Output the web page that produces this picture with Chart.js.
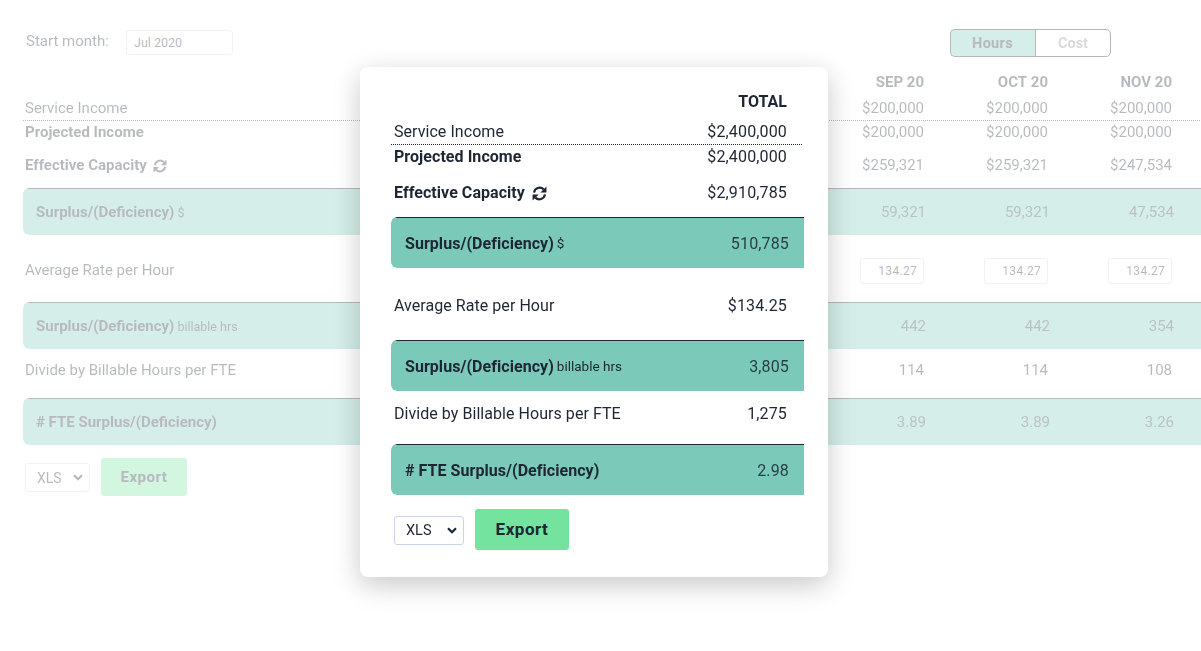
<!DOCTYPE html>
<html>
<head>
<meta charset="utf-8">
<style>
html, body { margin: 0; padding: 0; background: #fff; overflow: hidden; width: 1201px; height: 651px; font-family: Roboto, sans-serif; color: #1e2533; }
canvas { position: absolute; left: 0; top: 0; }
#back { position: absolute; left: 0; top: 0; width: 1201px; height: 651px; opacity: 0.32; }
#card { position: absolute; left: 360px; top: 67px; width: 468px; height: 510px; background: #fff; border-radius: 8px; box-shadow: 0 8px 28px rgba(0,0,0,.22); }
.abs { position: absolute; box-sizing: border-box; }
.box { background: #fff; border: 1px solid #c8d2e6; border-radius: 3px; font-size: 12.5px; line-height: 24px; }
select { position: absolute; box-sizing: border-box; appearance: none; -webkit-appearance: none; border: 1px solid #c8d6ec; border-radius: 3px; font-family: Roboto, sans-serif; color: #1e2533; padding-left: 11px;
  background: #fff url("data:image/svg+xml,%3Csvg xmlns='http://www.w3.org/2000/svg' width='10' height='7'%3E%3Cpath d='M1 1.2L5 5.2L9 1.2' fill='none' stroke='%231e2533' stroke-width='2.2'/%3E%3C/svg%3E") no-repeat right 6px center; }
.export { background: #74e3a0; border-radius: 3px; font-weight: 700; text-align: center; letter-spacing: 0.5px; }
svg { position: absolute; }
</style>
</head>
<body>
<div id="back">
  <canvas id="backChart" width="1201" height="651"></canvas>
  <div class="abs" style="left:26px;top:32px;font-size:15px;line-height:18px">Start month:</div>
  <div class="abs box" style="left:126px;top:30px;width:107px;height:25px;padding-left:7px">Jul 2020</div>
  <div class="abs" style="left:950px;top:29px;width:86px;height:28px;background:#7ac9b9;border:1px solid #1a1a1a;border-right:none;border-radius:5px 0 0 5px;font-size:14.5px;font-weight:700;text-align:center;line-height:28px;letter-spacing:.3px;padding-right:2px">Hours</div>
  <div class="abs" style="left:1035px;top:29px;width:76px;height:28px;border:1px solid #1a1a1a;border-radius:0 5px 5px 0;font-size:14.5px;font-weight:700;text-align:center;line-height:28px;color:#8a8a92">Cost</div>
  <div class="abs box" style="left:860px;top:258px;width:64px;height:26px;text-align:right;padding-right:6px;font-size:12px;letter-spacing:.3px">134.27</div>
  <div class="abs box" style="left:984px;top:258px;width:64px;height:26px;text-align:right;padding-right:6px;font-size:12px;letter-spacing:.3px">134.27</div>
  <div class="abs box" style="left:1108px;top:258px;width:64px;height:26px;text-align:right;padding-right:6px;font-size:12px;letter-spacing:.3px">134.27</div>
  <select style="left:25px;top:463px;width:65px;height:29px;font-size:14px"><option>XLS</option></select>
  <div class="abs export" style="left:101px;top:458px;width:86px;height:38px;font-size:15px;line-height:38px">Export</div>
  <svg style="left:153px;top:159px" width="14" height="14" viewBox="0 0 16 16"><path d="M2.2 7A6 6 0 0 1 12.4 3.6M13.8 9A6 6 0 0 1 3.6 12.4" fill="none" stroke="#1e2533" stroke-width="2.3"/><path d="M15.4 0.6V7H9ZM0.6 15.4V9H7Z" fill="#1e2533"/></svg>
</div>
<div id="card"></div>
<canvas id="cardChart" width="1201" height="651"></canvas>
<select style="left:394px;top:516px;width:70px;height:29px;font-size:14.5px"><option>XLS</option></select>
<div class="abs export" style="left:475px;top:509px;width:94px;height:41px;font-size:17px;line-height:41px">Export</div>
<svg style="left:532px;top:186px" width="15" height="15" viewBox="0 0 16 16"><path d="M2.2 7A6 6 0 0 1 12.4 3.6M13.8 9A6 6 0 0 1 3.6 12.4" fill="none" stroke="#1e2533" stroke-width="2.3"/><path d="M15.4 0.6V7H9ZM0.6 15.4V9H7Z" fill="#1e2533"/></svg>

<script src="https://cdn.jsdelivr.net/npm/chart.js@4"></script>
<script>
// table content
const rowLabels = ['Service Income', 'Projected Income', 'Effective Capacity', 'Surplus/(Deficiency)', 'Average Rate per Hour', 'Surplus/(Deficiency)', 'Divide by Billable Hours per FTE', '# FTE Surplus/(Deficiency)'];
const rowNotes = ['', '', '', '$', '', 'billable hrs', '', ''];
const months = ['SEP 20', 'OCT 20', 'NOV 20'];
const serviceIncome = [200000, 200000, 200000];
const projectedIncome = [200000, 200000, 200000];
const effectiveCapacity = [259321, 259321, 247534];
const surplusDollars = [59321, 59321, 47534];
const surplusHours = [442, 442, 354];
const billableHours = [114, 114, 108];
const fteSurplus = [3.89, 3.89, 3.26];
const totals = [2400000, 2400000, 2910785, 510785, 134.25, 3805, 1275, 2.98];

const money = v => '$' + v.toLocaleString('en-US');
const plain = v => v.toLocaleString('en-US');
const two = v => v.toFixed(2);

// how each row looks, in table order
const rowBold = [false, true, true, true, false, true, false, true];
const rowBand = [false, false, false, true, false, true, false, true];
const totalFormat = [money, money, money, plain, v => '$' + two(v), plain, plain, two];

// page layout, in canvas pixels
const backLayout = { labelX: 25, bandLabelX: 36, bandX: [23, 1201], bandY: [211.5, 325.5, 421.5], bandHeight: 47, dotted: [23, 1201], dottedY: 120.5, headerY: 82, rowY: [108.5, 132, 165.5, 212, 270, 326.5, 370.5, 422.5] };
const cardLayout = { labelX: 394, bandLabelX: 405, bandX: [391, 804], bandY: [242.5, 365.5, 469.5], bandHeight: 51, dotted: [391, 803], dottedY: 144.5, headerY: 102, rowY: [131.5, 157, 192.5, 243.5, 305.5, 366.5, 414, 470.5] };
const monthRight = [924, 1048, 1172];
const totalRight = 787;

const cellText = {
    id: 'cellText',
    afterDatasetsDraw(chart) {
        const ctx = chart.ctx;
        chart.data.datasets.forEach((ds, i) => {
            if (!ds.cells) return;
            chart.getDatasetMeta(i).data.forEach((pt, j) => {
                const c = ds.cells[j];
                const y = pt.y + 1;
                ctx.save();
                ctx.textBaseline = 'middle';
                ctx.textAlign = c.align;
                ctx.fillStyle = c.color;
                ctx.font = (c.bold ? '700 ' : '400 ') + c.size + 'px Roboto';
                ctx.letterSpacing = (c.spacing || 0) + 'px';
                ctx.fillText(c.text, pt.x, y);
                if (c.note) {
                    const w = ctx.measureText(c.text).width;
                    ctx.font = '400 ' + c.noteSize + 'px Roboto';
                    ctx.letterSpacing = '0px';
                    ctx.fillText(c.note, pt.x + w + 3, y + 0.5);
                }
                ctx.restore();
            });
        });
    }
};

const textSet = (points, cells) => ({ type: 'scatter', data: points, cells, pointRadius: 0 });

function drawTable(id, layout, columns, sizes) {
    const rows = layout.rowY;
    const bands = layout.bandY.map(y => ({ x: layout.bandX, y }));
    const labelPoints = rows.map((y, r) => ({ x: rowBand[r] ? layout.bandLabelX : layout.labelX, y }));
    const labelCells = rows.map((y, r) => ({
        text: rowLabels[r], note: rowNotes[r], noteSize: sizes.note, bold: rowBold[r],
        size: sizes.label, spacing: sizes.labelSpacing, align: 'left', color: '#1e2533'
    }));
    const datasets = [
        { type: 'bar', indexAxis: 'y', data: bands, barThickness: layout.bandHeight, backgroundColor: '#7ac9b9', borderColor: '#1e2533',
          borderWidth: { top: 1, left: 0, right: 0, bottom: 0 }, borderSkipped: false, inflateAmount: 0,
          borderRadius: { topLeft: 6, bottomLeft: 6, topRight: 0, bottomRight: 0 } },
        { type: 'scatter', showLine: true, data: layout.dotted.map(x => ({ x, y: layout.dottedY })), borderColor: '#1e2533', borderWidth: 1, borderDash: [1, 1], pointRadius: 0 },
        textSet(labelPoints, labelCells)
    ];
    columns.forEach(col => {
        datasets.push(textSet([{ x: col.right, y: layout.headerY }], [{ text: col.title, bold: true, size: sizes.head, spacing: 0, align: 'right', color: '#1e2533' }]));
        const points = [], cells = [];
        col.values.forEach((v, r) => {
            if (v === null) return;
            points.push({ x: col.right + (rowBand[r] ? 2 : 0), y: rows[r] });
            cells.push({ text: col.format[r](v), size: sizes.value, spacing: sizes.valueSpacing, align: 'right', color: rowBand[r] ? '#2a3f45' : '#1e2533' });
        });
        datasets.push(textSet(points, cells));
    });
    return new Chart(id, {
        type: 'scatter',
        data: { datasets },
        plugins: [cellText],
        options: {
            responsive: false,
            animation: false,
            events: [],
            layout: { padding: 0 },
            plugins: { legend: { display: false }, tooltip: { enabled: false } },
            scales: {
                x: { type: 'linear', min: 0, max: 1201, display: false, offset: false },
                y: { type: 'linear', min: 0, max: 651, reverse: true, display: false, offset: false }
            }
        }
    });
}

const monthFormat = [money, money, money, plain, two, plain, plain, two];
const monthColumns = months.map((title, m) => ({
    title, right: monthRight[m], format: monthFormat,
    // the rate row sits in input boxes, so it is left out here
    values: [serviceIncome[m], projectedIncome[m], effectiveCapacity[m], surplusDollars[m], null, surplusHours[m], billableHours[m], fteSurplus[m]]
}));

drawTable('backChart', backLayout, monthColumns, { label: 15, note: 12.5, value: 15, head: 15, labelSpacing: 0, valueSpacing: 0 });
drawTable('cardChart', cardLayout, [{ title: 'TOTAL', right: totalRight, format: totalFormat, values: totals }], { label: 16, note: 13.5, value: 16, head: 16, labelSpacing: 0.05, valueSpacing: 0.15 });
</script>
</body>
</html>
